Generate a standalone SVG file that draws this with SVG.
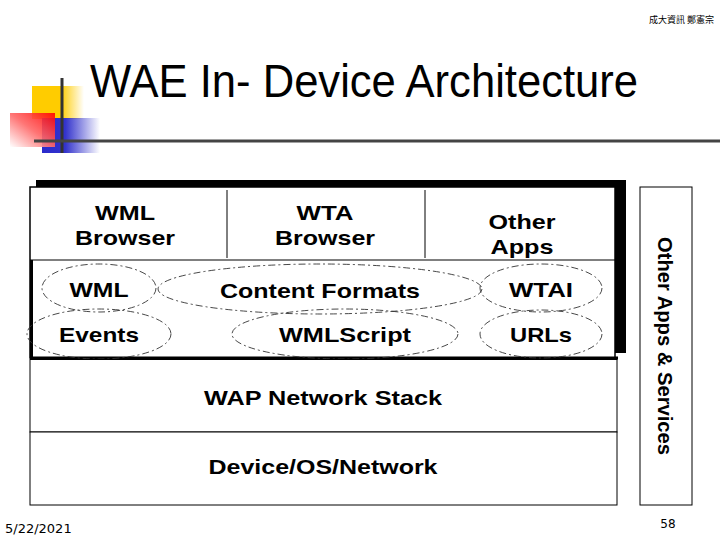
<svg xmlns="http://www.w3.org/2000/svg" width="720" height="540" viewBox="0 0 720 540">
<style>
.t{font-family:"Liberation Sans",Arial,sans-serif;font-weight:bold;font-size:21px;fill:#000;text-anchor:middle}
.el{fill:none;stroke:#333;stroke-width:0.9;stroke-dasharray:7 3 2 3}
.box{fill:#fff;stroke:#000;stroke-width:1}
</style>
<defs>
<linearGradient id="gy" x1="0" x2="1" y1="0" y2="0"><stop offset="0" stop-color="#ffcc00"/><stop offset="0.55" stop-color="#ffcc00"/><stop offset="1" stop-color="#ffcc00" stop-opacity="0"/></linearGradient>
<linearGradient id="gb" x1="0" x2="1" y1="0" y2="0"><stop offset="0" stop-color="#2a2acc"/><stop offset="0.4" stop-color="#3333cc"/><stop offset="1" stop-color="#3333cc" stop-opacity="0"/></linearGradient>
<linearGradient id="gr" x1="1" x2="0" y1="0" y2="1"><stop offset="0" stop-color="#ff0000"/><stop offset="0.5" stop-color="#ff6666"/><stop offset="1" stop-color="#ffffff"/></linearGradient>
</defs>
<rect width="720" height="540" fill="#fff"/>
<text x="714" y="23" font-family="'Noto Sans CJK TC',sans-serif" font-size="9" text-anchor="end">成大資訊 鄭憲宗</text>
<g id="logo">
<rect x="32" y="86" width="52" height="33" fill="url(#gy)"/>
<rect x="32" y="86" width="30" height="33" fill="#ffcc00"/>
<rect x="42" y="118" width="58" height="35" fill="url(#gb)"/>
<rect x="10" y="113" width="45" height="34" fill="url(#gr)" opacity="0.9"/>
<line x1="62" y1="78" x2="62" y2="153" stroke="#333" stroke-width="3"/>
<line x1="34" y1="141" x2="720" y2="141" stroke="#444" stroke-width="3"/>
</g>
<text x="90" y="97" font-family="'Liberation Sans',Arial,sans-serif" font-size="46" textLength="548" lengthAdjust="spacingAndGlyphs">WAE In- Device Architecture</text>
<g id="app-box">
<rect x="36" y="180" width="590" height="173" fill="#000"/>
<rect x="30" y="187" width="585" height="171" fill="#fff" stroke="#000" stroke-width="1.5"/>
<line x1="31.5" y1="260" x2="31.5" y2="358" stroke="#000" stroke-width="3"/>
<line x1="30" y1="358" x2="618" y2="358" stroke="#000" stroke-width="3"/>
<line x1="30" y1="260" x2="616" y2="260" stroke="#000" stroke-width="1"/>
<line x1="227" y1="190" x2="227" y2="258" stroke="#000" stroke-width="1"/>
<line x1="425" y1="190" x2="425" y2="258" stroke="#000" stroke-width="1"/>
</g>
<g id="wml-browser"><text class="t" x="125" y="220" textLength="60" lengthAdjust="spacingAndGlyphs">WML</text><text class="t" x="125" y="245" textLength="100" lengthAdjust="spacingAndGlyphs">Browser</text></g>
<g id="wta-browser"><text class="t" x="325" y="220" textLength="57" lengthAdjust="spacingAndGlyphs">WTA</text><text class="t" x="325" y="245" textLength="100" lengthAdjust="spacingAndGlyphs">Browser</text></g>
<g id="other-apps"><text class="t" x="522" y="229" textLength="67" lengthAdjust="spacingAndGlyphs">Other</text><text class="t" x="522" y="254" textLength="63" lengthAdjust="spacingAndGlyphs">Apps</text></g>
<g id="wml"><ellipse class="el" cx="99" cy="288" rx="57" ry="24"/><text class="t" x="99" y="297" textLength="59" lengthAdjust="spacingAndGlyphs">WML</text></g>
<g id="content-formats"><ellipse class="el" cx="320" cy="289" rx="162" ry="25"/><text class="t" x="320" y="298" textLength="200" lengthAdjust="spacingAndGlyphs">Content Formats</text></g>
<g id="wtai"><ellipse class="el" cx="541" cy="288" rx="61" ry="24"/><text class="t" x="541" y="297" textLength="64" lengthAdjust="spacingAndGlyphs">WTAI</text></g>
<g id="events"><ellipse class="el" cx="99" cy="334" rx="72" ry="25"/><text class="t" x="99" y="342" textLength="80" lengthAdjust="spacingAndGlyphs">Events</text></g>
<g id="wmlscript"><ellipse class="el" cx="345" cy="334" rx="113" ry="25"/><text class="t" x="345" y="342" textLength="132" lengthAdjust="spacingAndGlyphs">WMLScript</text></g>
<g id="urls"><ellipse class="el" cx="541" cy="334" rx="61" ry="24"/><text class="t" x="541" y="342" textLength="62" lengthAdjust="spacingAndGlyphs">URLs</text></g>
<g id="wap-stack"><rect class="box" x="30" y="359.5" width="587" height="72.5"/><text class="t" x="323" y="405" textLength="238" lengthAdjust="spacingAndGlyphs">WAP Network Stack</text></g>
<g id="device-os"><rect class="box" x="30" y="432" width="587" height="73"/><text class="t" x="323" y="474" textLength="229" lengthAdjust="spacingAndGlyphs">Device/OS/Network</text></g>
<g id="other-services"><rect class="box" x="640" y="187" width="52" height="318"/><text class="t" transform="translate(658,346) rotate(90)" x="0" y="0" textLength="218" lengthAdjust="spacingAndGlyphs">Other Apps &amp; Services</text></g>
<g id="connectors"></g>
<text x="5" y="533" font-family="'DejaVu Sans',sans-serif" font-size="13">5/22/2021</text>
<text x="668" y="528" font-family="'DejaVu Sans',sans-serif" font-size="12" text-anchor="middle">58</text>
</svg>
